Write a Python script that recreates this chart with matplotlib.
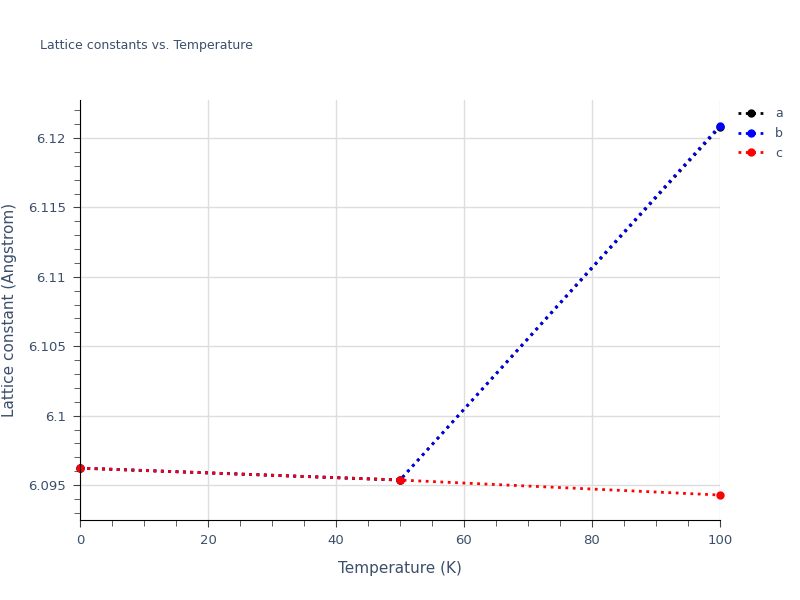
import numpy as np
import matplotlib.pyplot as plt
from matplotlib.ticker import MultipleLocator

# 데이터
temps = [0, 50, 100]
lat_a = [6.09622, 6.09536, 6.12080]
lat_b = [6.09622, 6.09536, 6.12090]
lat_c = [6.09622, 6.09536, 6.09428]

txt = '#3b4f6b'

fig = plt.figure(figsize=(8, 6), dpi=100)
ax = fig.add_axes([0.1, 0.1333, 0.8, 0.7])

for y, col, lab in [(lat_a, 'black', 'a'), (lat_b, 'blue', 'b'), (lat_c, 'red', 'c')]:
    ax.plot(temps, y, ':', color=col, lw=2, marker='o', ms=5, label=lab, clip_on=False)

ax.set_xlim(0, 100)
ax.set_ylim(6.09248, 6.12274)
ax.xaxis.set_major_locator(MultipleLocator(20))
ax.xaxis.set_minor_locator(MultipleLocator(5))
ax.yaxis.set_minor_locator(MultipleLocator(0.001))
ax.set_yticks([6.095, 6.1, 6.105, 6.11, 6.115, 6.12])
ax.set_yticklabels(['6.095', '6.1', '6.105', '6.11', '6.115', '6.12'])
ax.grid(True, which='major', color='#dddddd', lw=1)
ax.set_axisbelow(True)
for s in ['top', 'right']:
    ax.spines[s].set_visible(False)
for s in ['left', 'bottom']:
    ax.spines[s].set_color('black')
ax.tick_params(which='major', length=5, color='#444444', labelcolor=txt, labelsize=9.5, pad=5)
ax.tick_params(which='minor', length=4, color='#444444')

ax.set_xlabel('Temperature (K)', color=txt, fontsize=11, labelpad=10)
ax.set_ylabel('Lattice constant (Angstrom)', color=txt, fontsize=11, labelpad=8)
fig.text(0.05, 0.925, 'Lattice constants vs. Temperature', color=txt, fontsize=9, va='center')

leg = ax.legend(loc='upper left', bbox_to_anchor=(1.01, 1.01), frameon=False,
                fontsize=9, handlelength=2.2, labelspacing=0.55, labelcolor=txt)

plt.savefig('out.png')
